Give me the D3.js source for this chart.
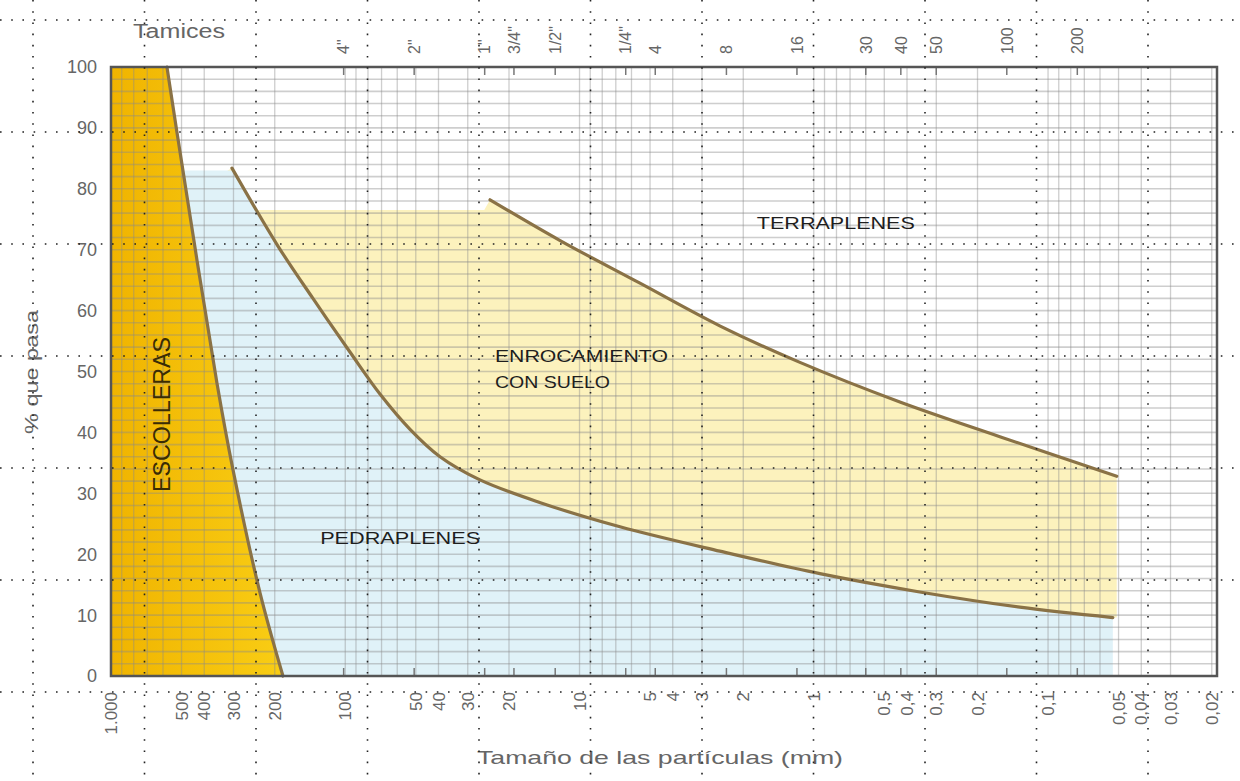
<!DOCTYPE html>
<html>
<head>
<meta charset="utf-8">
<script src="https://cdn.jsdelivr.net/npm/d3@7"></script>
<style>
  body { margin: 0; background: #fff; }
  svg { display: block; font-family: "Liberation Sans", Arial, sans-serif; }
</style>
</head>
<body>
<div id="chart"></div>
<script>
const W = 1240, H = 781;

// grain size (mm) vs % passing
const escollerasMm = [577, 523, 353, 302, 231, 184.5];
const escollerasPct = [100, 89.3, 48.1, 34, 13.6, 0];

const lowerMm = [304.5, 193.8, 137.4, 95.5, 71.1, 52.9, 39.4, 26.6, 14.8, 6.72, 2.52, 0.942, 0.353, 0.132, 0.0529];
const lowerPct = [83.4, 70.6, 62, 53.2, 46.3, 40.5, 36, 32.2, 28.5, 24.5, 20.5, 16.8, 13.8, 11.3, 9.6];

const upperMm = [24.1, 12.1, 5.52, 2.52, 1.146, 0.429, 0.1606, 0.0509];
const upperPct = [78.2, 71.5, 64.5, 57.5, 51.5, 45, 39.3, 32.8];

const yTicks = [0, 10, 20, 30, 40, 50, 60, 70, 80, 90, 100];
const bottomTicks = [1000, 500, 400, 300, 200, 100, 50, 40, 30, 20, 10, 5, 4, 3, 2, 1, 0.5, 0.4, 0.3, 0.2, 0.1, 0.05, 0.04, 0.03, 0.02];
const bottomLabels = ["1.000", "500", "400", "300", "200", "100", "50", "40", "30", "20", "10", "5", "4", "3", "2", "1", "0,5", "0,4", "0,3", "0,2", "0,1", "0,05", "0,04", "0,03", "0,02"];
const sieveSizes = [101.6, 50.8, 25.4, 19.05, 12.7, 6.35, 4.75, 2.36, 1.18, 0.6, 0.425, 0.3, 0.15, 0.075];
const sieveLabels = ['4"', '2"', '1"', '3/4"', '1/2"', '1/4"', "4", "8", "16", "30", "40", "50", "100", "200"];

const zip = (mm, pct) => mm.map((m, i) => ({ mm: m, p: pct[i] }));
const escolleras = zip(escollerasMm, escollerasPct);
const lower = zip(lowerMm, lowerPct);
const upper = zip(upperMm, upperPct);

const plot = { left: 111, right: 1217, top: 67, bottom: 676 };

const x = d3.scaleLog().domain([1000, 0.019]).range([plot.left, plot.right]);
const y = d3.scaleLinear().domain([0, 100]).range([plot.bottom, plot.top]);

const svg = d3.select("#chart").append("svg")
  .attr("width", W)
  .attr("height", H);

const defs = svg.append("defs");
const grad = defs.append("linearGradient")
  .attr("id", "escGrad")
  .attr("gradientUnits", "userSpaceOnUse")
  .attr("x1", plot.left).attr("x2", x(184.5))
  .attr("y1", 0).attr("y2", 0);
grad.append("stop").attr("offset", "0%").attr("stop-color", "#f0b400");
grad.append("stop").attr("offset", "100%").attr("stop-color", "#f9cd14");

const curve = d3.line()
  .x(d => x(d.mm))
  .y(d => y(d.p))
  .curve(d3.curveCatmullRom.alpha(0.5));

const upperPath = curve(upper);
const lowerPath = curve(lower);
const lowerRev = curve(lower.slice().reverse());
const lastU = upper[upper.length - 1], lastL = lower[lower.length - 1];

// enrocamiento con suelo (pale yellow)
svg.append("path")
  .attr("d", `M${x(600)},${y(76.5)}L${x(25.5)},${y(76.5)}L${upperPath.slice(1)}` +
    `L${x(lastU.mm)},${y(lastL.p)}L${lowerRev.slice(1)}Z`)
  .attr("fill", "#fcf2bd");

// pedraplenes (pale blue)
svg.append("path")
  .attr("d", `M${x(700)},${y(83)}L${x(lower[0].mm)},${y(83)}L${lowerPath.slice(1)}` +
    `L${x(lastL.mm)},${y(0)}L${x(700)},${y(0)}Z`)
  .attr("fill", "#e0f2f8");

// escolleras
svg.append("path")
  .attr("d", `M${x(1000)},${y(100)}L${curve(escolleras).slice(1)}L${x(1000)},${y(0)}Z`)
  .attr("fill", "url(#escGrad)");

// grid
const grid = svg.append("g").attr("stroke", "#8a8a8a").attr("stroke-opacity", 0.42);
grid.selectAll("line.v")
  .data(x.ticks().filter(v => v >= 0.019 && v <= 1000))
  .join("line")
  .attr("class", "v")
  .attr("x1", d => x(d)).attr("x2", d => x(d))
  .attr("y1", plot.top).attr("y2", plot.bottom)
  .attr("stroke-width", 1.3);
grid.selectAll("line.h")
  .data(d3.range(0, 101, 2))
  .join("line")
  .attr("class", "h")
  .attr("x1", plot.left).attr("x2", plot.right)
  .attr("y1", d => y(d)).attr("y2", d => y(d))
  .attr("stroke-width", 1.6);

// curves
const curveStyle = sel => sel.attr("fill", "none").attr("stroke", "#8a7246").attr("stroke-width", 3.2).attr("stroke-linecap", "round");
svg.append("path").attr("d", curve(escolleras)).call(curveStyle);
svg.append("path").attr("d", lowerPath).call(curveStyle);
svg.append("path").attr("d", upperPath).call(curveStyle);

// sieve ticks top and bottom
svg.append("g").selectAll("line")
  .data(sieveSizes)
  .join("line")
  .attr("x1", d => x(d)).attr("x2", d => x(d))
  .attr("y1", plot.top).attr("y2", plot.top + 8)
  .attr("stroke", "#777").attr("stroke-width", 1.5);
svg.append("g").selectAll("line")
  .data(sieveSizes)
  .join("line")
  .attr("x1", d => x(d)).attr("x2", d => x(d))
  .attr("y1", plot.bottom - 8).attr("y2", plot.bottom)
  .attr("stroke", "#777").attr("stroke-width", 1.5);

// border
svg.append("rect")
  .attr("x", plot.left).attr("y", plot.top)
  .attr("width", plot.right - plot.left).attr("height", plot.bottom - plot.top)
  .attr("fill", "none").attr("stroke", "#555").attr("stroke-width", 2.5);

// y tick labels
svg.append("g").selectAll("text")
  .data(yTicks)
  .join("text")
  .attr("x", 97).attr("y", d => y(d))
  .attr("dy", "0.36em")
  .attr("text-anchor", "end")
  .attr("font-size", 18)
  .attr("fill", "#666")
  .text(d => d);

// bottom tick labels
svg.append("g").selectAll("text")
  .data(bottomTicks)
  .join("text")
  .attr("transform", d => `translate(${x(d)},692) rotate(-90)`)
  .attr("dy", "0.36em")
  .attr("text-anchor", "end")
  .attr("font-size", 17)
  .attr("fill", "#666")
  .text((d, i) => bottomLabels[i]);

// sieve labels on top
svg.append("g").selectAll("text")
  .data(sieveSizes)
  .join("text")
  .attr("transform", d => `translate(${x(d)},54) rotate(-90)`)
  .attr("dy", "0.36em")
  .attr("text-anchor", "start")
  .attr("font-size", 16)
  .attr("fill", "#666")
  .text((d, i) => sieveLabels[i]);

const stretched = (sel, len) => sel.attr("textLength", len).attr("lengthAdjust", "spacingAndGlyphs");

svg.append("text")
  .attr("x", 133).attr("y", 38)
  .attr("font-size", 20)
  .attr("fill", "#666")
  .call(stretched, 92)
  .text("Tamices");

// axis titles
svg.append("text")
  .attr("x", 477).attr("y", 764)
  .attr("font-size", 19)
  .attr("fill", "#666")
  .call(stretched, 366)
  .text("Tamaño de las partículas (mm)");

svg.append("text")
  .attr("transform", "translate(38,434) rotate(-90)")
  .attr("font-size", 19)
  .attr("fill", "#666")
  .call(stretched, 124)
  .text("% que pasa");

// zone labels
const zoneText = (mm, p, txt, len, size) => svg.append("text")
  .attr("x", x(mm)).attr("y", y(p))
  .attr("font-size", size)
  .attr("fill", "#1e1e1e")
  .call(stretched, len)
  .text(txt);

zoneText(1.75, 73.4, "TERRAPLENES", 158, 17);
zoneText(22.96, 51.6, "ENROCAMIENTO", 173, 17);
zoneText(22.96, 47.3, "CON SUELO", 115, 17);
zoneText(128, 21.7, "PEDRAPLENES", 160, 17);

svg.append("text")
  .attr("transform", `translate(${x(560)},${y(30.2)}) rotate(-90)`)
  .attr("font-size", 23)
  .attr("fill", "#3a2c05")
  .call(stretched, 155)
  .text("ESCOLLERAS");

// dotted overlay of the picture
const dotX = d3.range(11).map(i => 33 + i * 111.5);
const dotY = d3.range(7).map(i => 20 + i * 112);
const dots = svg.append("g")
  .attr("stroke", "#222")
  .attr("stroke-width", 1.6)
  .attr("stroke-dasharray", "1.6,9.6");
dots.selectAll("line.dv").data(dotX).join("line")
  .attr("x1", d => d).attr("x2", d => d).attr("y1", 0).attr("y2", H);
dots.selectAll("line.dh").data(dotY).join("line")
  .attr("y1", d => d).attr("y2", d => d).attr("x1", 0).attr("x2", W);
</script>
</body>
</html>
